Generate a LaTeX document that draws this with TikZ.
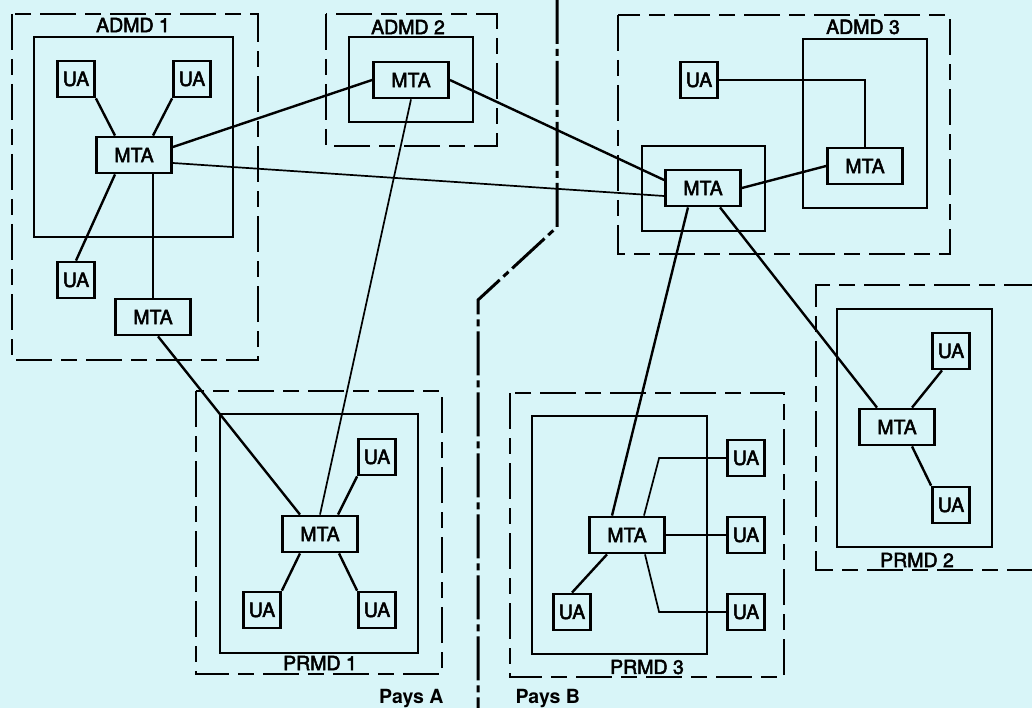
\documentclass[tikz,border=0pt]{standalone}
\usepackage{fontspec}
\setmainfont{TeX Gyre Heros}
\newfontfamily\medium{TeX Gyre Heros}[FakeBold=2.5]
\usetikzlibrary{calc}
\definecolor{fond}{RGB}{216,245,248}
\begin{document}
\begin{tikzpicture}[x=1pt,y=-1pt,
  ua/.style={draw,line width=2.8pt,minimum width=37pt,minimum height=36pt,inner sep=0pt,font=\medium\fontsize{19.5}{21}\selectfont},
  mta/.style={ua,minimum width=75pt},
  dom/.style={draw,line width=1.9pt},
  admd/.style={draw,line width=1.9pt,dash pattern=on 36pt off 9pt on 16pt off 9pt},
  lien/.style={line width=2.4pt},
  fin/.style={line width=1.7pt},
  frontiere/.style={line width=3pt,dash pattern=on 44pt off 5pt on 7pt off 5pt},
  lab/.style={font=\medium\fontsize{19.5}{21}\selectfont}]
\fill[fond] (0,0) rectangle (1032,708);
\useasboundingbox (0,0) rectangle (1032,708);
% frontiere entre les pays
\draw[frontiere] (557,0)--(557,227)--(478,300)--(478,708);
\node[lab,font=\bfseries\fontsize{19.5}{21}\selectfont,anchor=base east] (paysA) at (447,703) {Pays A};
\node[lab,font=\bfseries\fontsize{19.5}{21}\selectfont,anchor=base west] (paysB) at (512,703) {Pays B};
% ADMD 1
\begin{scope}
\draw[admd] (12,14) rectangle (258,360);
\draw[dom] (34,37) rectangle (233,237);
\node[lab] (t1) at (133,25) {ADMD 1};
\node[ua] (ua11) at (76,79) {UA};
\node[ua] (ua12) at (192,79) {UA};
\node[mta] (m1) at (134,155) {MTA};
\node[ua] (ua13) at (76,280) {UA};
\node[mta] (m1b) at (153,317) {MTA};
\draw[lien] (ua11.south east)--($(m1.north)+(-19,0)$);
\draw[lien] (ua12.south west)--($(m1.north)+(19,0)$);
\draw[lien] ($(m1.south)+(-19,0)$)--(ua13.north);
\draw[fin] ($(m1.south)+(19,0)$)--(m1b.north);
\end{scope}
% ADMD 2
\begin{scope}
\draw[admd] (326,14) rectangle (497,146);
\draw[dom] (349,37) rectangle (473,122);
\node[lab] (t2) at (408,27) {ADMD 2};
\node[mta] (m2) at (411,80) {MTA};
\end{scope}
% ADMD 3
\begin{scope}
\draw[admd] (618,15) rectangle (950,254);
\draw[dom] (803,39) rectangle (927,208);
\draw[dom] (642,146) rectangle (765,231);
\node[lab] (t3) at (863,27) {ADMD 3};
\node[ua] (ua3) at (699,80) {UA};
\node[mta] (m3r) at (865,166) {MTA};
\node[mta] (m3c) at (703,188) {MTA};
\draw[fin] (ua3.east)-|(m3r.north);
\draw[lien] (m3c.east)--(m3r.west);
\end{scope}
% PRMD 1
\begin{scope}
\draw[admd] (196,391) rectangle (442,674);
\draw[dom] (220,414) rectangle (418,653);
\node[lab] (t4) at (320,663) {PRMD 1};
\node[mta] (p1m) at (320,534) {MTA};
\node[ua] (p1u1) at (377,457) {UA};
\node[ua] (p1u2) at (262,610) {UA};
\node[ua] (p1u3) at (377,610) {UA};
\draw[lien] ($(p1m.north)+(18,0)$)--(p1u1.south west);
\draw[lien] ($(p1m.south)+(-20,0)$)--(p1u2.north east);
\draw[lien] ($(p1m.south)+(19,0)$)--(p1u3.north west);
\end{scope}
% PRMD 2
\begin{scope}
\draw[admd] (1040,285)--(816,285)--(816,570)--(1040,570);
\draw[dom] (837,309) rectangle (992,547);
\node[lab] (t5) at (917,560) {PRMD 2};
\node[mta] (p2m) at (897,427) {MTA};
\node[ua] (p2u1) at (951,351) {UA};
\node[ua] (p2u2) at (951,505) {UA};
\draw[lien] ($(p2m.north)+(15,0)$)--($(p2u1.south)+(-9,0)$);
\draw[lien] ($(p2m.south)+(15,0)$)--(p2u2.north west);
\end{scope}
% PRMD 3
\begin{scope}
\draw[admd] (510,393) rectangle (784,677);
\draw[dom] (532,416) rectangle (707,654);
\node[lab] (t6) at (647,667) {PRMD 3};
\node[mta] (p3m) at (627,535) {MTA};
\node[ua] (p3u1) at (746,458) {UA};
\node[ua] (p3u2) at (746,535) {UA};
\node[ua] (p3u3) at (746,612) {UA};
\node[ua] (p3u4) at (572,612) {UA};
\draw[fin] ($(p3m.north)+(17,0)$)--($(p3u1.west)+(-67,0)$)--(p3u1.west);
\draw[fin] (p3m.east)--(p3u2.west);
\draw[fin] ($(p3m.south)+(18,0)$)--($(p3u3.west)+(-67,0)$)--(p3u3.west);
\draw[lien] ($(p3m.south)+(-20,0)$)--(p3u4.north);
\end{scope}
% liaisons entre domaines
\draw[lien] ($(m1.east)+(0,-8)$)--(m2.west);
\draw[fin] ($(m1.east)+(0,8)$)--($(m3c.west)+(0,8)$);
\draw[lien] (m2.east)--($(m3c.west)+(0,-8)$);
\draw[fin] (m2.south)--(p1m.north);
\draw[lien] ($(m1b.south)+(5,0)$)--($(p1m.north)+(-20,0)$);
\draw[lien] ($(m3c.south)+(-15,0)$)--($(p3m.north)+(-15,0)$);
\draw[lien] ($(m3c.south)+(17,0)$)--($(p2m.north)+(-20,0)$);
\end{tikzpicture}
\end{document}
